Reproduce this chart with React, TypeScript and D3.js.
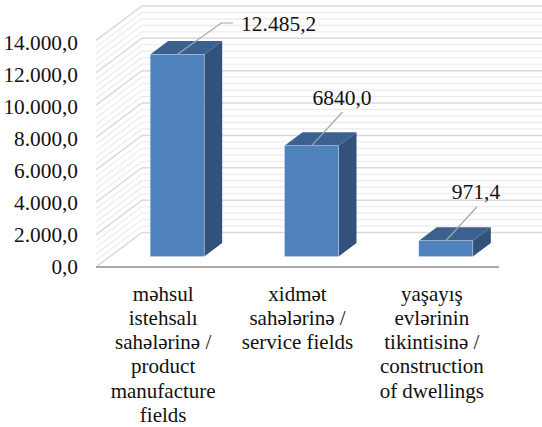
import React from "react";
import * as d3 from "d3";

const categories = [
  ["məhsul", "istehsalı", "sahələrinə /", "product", "manufacture", "fields"],
  ["xidmət", "sahələrinə /", "service fields"],
  ["yaşayış", "evlərinin", "tikintisinə /", "construction", "of dwellings"],
];
const values = [12485.2, 6840.0, 971.4];
const valueLabels = ["12.485,2", "6840,0", "971,4"];
const yTicks = [0, 2000, 4000, 6000, 8000, 10000, 12000, 14000];
const yTickLabels = ["0,0", "2.000,0", "4.000,0", "6.000,0", "8.000,0", "10.000,0", "12.000,0", "14.000,0"];
const minorTicks = d3.range(0, 14000, 400).filter((t) => t % 2000 !== 0);

const FONT = "'Liberation Serif', 'Times New Roman', serif";
const depthX = 46;
const depthY = -34.5;

const App = () => {
  const y = d3.scaleLinear().domain([0, 14000]).range([267, 40.4]);
  // tick labels don't sit quite on the front edge of the wall
  const yLabel = d3.scaleLinear().domain([0, 14000]).range([267, 43.3]);
  const x = d3.scaleBand().domain(["0", "1", "2"]).range([96, 499]);
  const barW = 54;
  const sideX = 18;
  const sideY = -13.5;
  const offX = 14;
  const offY = -10.5;

  const leaderEnds = [
    { dx: 44, y: 23, hook: 12 },
    { dx: 31, y: 112, hook: 0 },
    { dx: 31, y: 207, hook: 0 },
  ];
  const labelPos = [
    { x: 241, y: 31, anchor: "start" },
    { x: 342, y: 105, anchor: "middle" },
    { x: 476, y: 199, anchor: "middle" },
  ];

  return (
    <svg
      width={542}
      height={427}
      style={{ position: "absolute", left: 0, top: 0, background: "#fff" }}
      fontFamily={FONT}
    >
      {/* minor grid */}
      {minorTicks.map((t) => (
        <path
          key={t}
          d={`M96,${y(t)}L${96 + depthX},${y(t) + depthY}H545`}
          fill="none"
          stroke="#ececec"
          strokeWidth={1.2}
        />
      ))}
      {/* major grid */}
      {yTicks.map((t) => (
        <path
          key={t}
          d={`M96,${y(t)}L${96 + depthX},${y(t) + depthY}H545`}
          fill="none"
          stroke="#d9d9d9"
          strokeWidth={1.5}
        />
      ))}
      <line x1={96} x2={499} y1={267} y2={267} stroke="#8c8c8c" strokeWidth={1.6} />

      {yTicks.map((t, i) => (
        <text key={t} x={78} y={yLabel(t) + 6.5} textAnchor="end" fontSize={21.3} fill="#111">
          {yTickLabels[i]}
        </text>
      ))}

      {values.map((v, i) => {
        const left = (x(String(i)) as number) + x.bandwidth() / 2 - barW / 2 + offX;
        const top = y(0) + offY - (y(0) - y(v));
        const right = left + barW;
        const bottom = y(0) + offY;
        const cx = left + barW / 2;
        const end = leaderEnds[i];
        return (
          <g key={i}>
            <path
              d={`M${right},${top}l${sideX},${sideY}V${bottom + sideY}l${-sideX},${-sideY}Z`}
              fill="#32527b"
            />
            <path
              d={`M${left},${top}l${sideX},${sideY}h${barW}l${-sideX},${-sideY}Z`}
              fill="#3c6190"
            />
            <rect x={left} y={top} width={barW} height={bottom - top} fill="#4f81bd" stroke="#c9d8ea" strokeWidth={0.5} />
            <path
              d={`M${cx},${top}L${cx + end.dx},${end.y}h${end.hook}`}
              fill="none"
              stroke="#a6a6a6"
              strokeWidth={1.2}
            />
            <text
              x={labelPos[i].x}
              y={labelPos[i].y}
              textAnchor={labelPos[i].anchor as "start" | "middle"}
              fontSize={21.5}
              fill="#111"
            >
              {valueLabels[i]}
            </text>
          </g>
        );
      })}

      {categories.map((lines, i) => (
        <text key={i} textAnchor="middle" fontSize={21} fill="#111">
          {lines.map((l, j) => (
            <tspan key={j} x={(x(String(i)) as number) + x.bandwidth() / 2} y={300.7 + j * 24.2}>
              {l}
            </tspan>
          ))}
        </text>
      ))}
    </svg>
  );
};

export default App;
